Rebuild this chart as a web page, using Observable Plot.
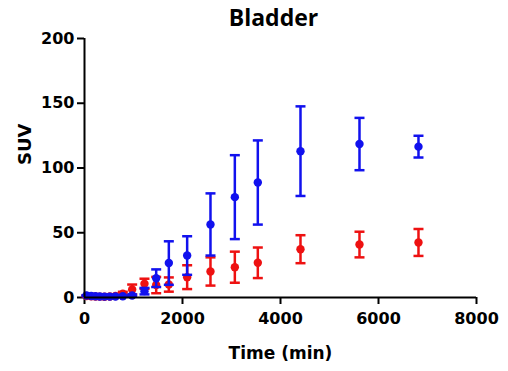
<!DOCTYPE html>
<html>
<head>
<meta charset="utf-8">
<script src="https://cdn.jsdelivr.net/npm/d3@7"></script>
<script src="https://cdn.jsdelivr.net/npm/@observablehq/plot@0.6"></script>
<style>
  html, body { margin: 0; padding: 0; background: #fff; }
</style>
</head>
<body>
<div id="chart"></div>
<script>
const times = [41, 137, 224, 312, 408, 517, 633, 782, 973, 1224, 1463, 1721, 2095, 2571, 3068, 3537, 4408, 5612, 6816];
const blueMean = [1.5, 1.2, 1.0, 0.8, 0.7, 0.7, 0.8, 1.0, 1.5, 4.9, 14.9, 26.6, 32.4, 56.4, 77.5, 88.8, 113, 118.5, 116.5];
const blueErr  = [0.3, 0.3, 0.3, 0.3, 0.3, 0.3, 0.3, 0.4, 0.8, 2.5, 6.8, 16.8, 14.9, 24.0, 32.4, 32.5, 34.6, 20.2, 8.4];
const redMean  = [1.2, 1.0, 0.8, 0.7, 0.6, 0.8, 1.2, 2.9, 6.2, 10.6, 9.6, 10.0, 15.7, 20.1, 23.4, 26.8, 37.3, 40.9, 42.5];
const redErr   = [0.4, 0.4, 0.4, 0.4, 0.4, 0.4, 0.6, 1.5, 3.8, 3.9, 6.3, 5.5, 9.2, 10.9, 12.0, 11.8, 10.8, 9.9, 10.4];
const xTicks = [0, 2000, 4000, 6000, 8000];
const yTicks = [0, 50, 100, 150, 200];

const series = [
  {name: "red", color: "#ee1111", mean: redMean, err: redErr},
  {name: "blue", color: "#1111ee", mean: blueMean, err: blueErr}
];
const rows = series.flatMap(s => times.map((t, i) => ({
  series: s.name, color: s.color, t, m: s.mean[i], lo: s.mean[i] - s.err[i], hi: s.mean[i] + s.err[i]
})));

const cap = {
  draw(context, size) {
    const w = Math.sqrt(size / Math.PI);
    context.moveTo(-w, 0);
    context.lineTo(w, 0);
  }
};

const marks = [];
for (const s of series) {
  const d = rows.filter(r => r.series === s.name);
  marks.push(
    Plot.ruleX(d, {x: "t", y1: "lo", y2: "hi", stroke: s.color, strokeWidth: 2.5}),
    Plot.dot(d, {x: "t", y: "lo", symbol: cap, r: 5, stroke: s.color, strokeWidth: 2.5, fill: "none"}),
    Plot.dot(d, {x: "t", y: "hi", symbol: cap, r: 5, stroke: s.color, strokeWidth: 2.5, fill: "none"}),
    Plot.dot(d, {x: "t", y: "m", r: 4.2, fill: s.color, stroke: "none"})
  );
}

const chart = Plot.plot({
  width: 508,
  height: 371,
  marginLeft: 84,
  marginRight: 32,
  marginTop: 38,
  marginBottom: 74,
  style: {fontFamily: "DejaVu Sans", fontWeight: "bold", fontSize: "16px", color: "#000", background: "#fff"},
  x: {domain: [0, 8000]},
  y: {domain: [0, 200]},
  marks: [
    Plot.axisX({ticks: xTicks, tickSize: 7, tickPadding: 8, strokeWidth: 2, tickFormat: d3.format("d"), label: null, fontSize: 16}),
    Plot.axisY({ticks: yTicks, tickSize: 7, tickPadding: 3, strokeWidth: 2, tickFormat: d3.format("d"), label: null, fontSize: 16}),
    ...marks,
    Plot.ruleX([0], {stroke: "#000", strokeWidth: 2}),
    Plot.ruleY([0], {stroke: "#000", strokeWidth: 2}),
    Plot.text(["Bladder"], {frameAnchor: "top", dy: -20, dx: -7, text: d => d, fontSize: 23, fontFamily: "Open Sans", fontWeight: "bold", lineAnchor: "middle"}),
    Plot.text(["Time (min)"], {frameAnchor: "bottom", dy: 56, text: d => d, fontSize: 17, lineAnchor: "middle"}),
    Plot.text(["SUV"], {frameAnchor: "left", dx: -59, dy: -3, rotate: -90, text: d => d, fontSize: 18, lineAnchor: "middle"})
  ]
});
document.getElementById("chart").appendChild(chart);
</script>
</body>
</html>
